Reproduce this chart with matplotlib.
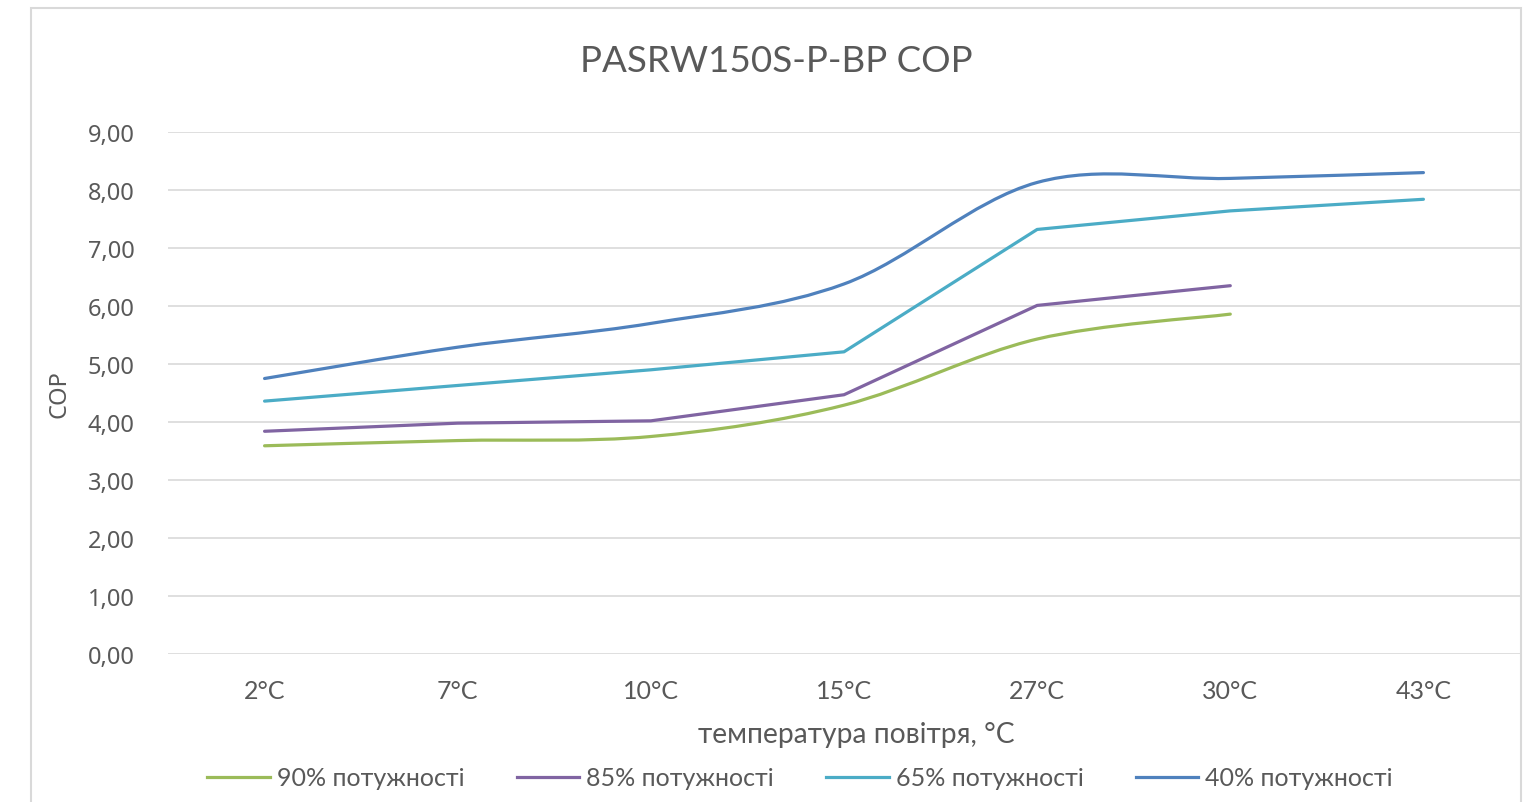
import matplotlib
matplotlib.use("Agg")
import matplotlib.pyplot as plt
from matplotlib.lines import Line2D
from matplotlib.patches import PathPatch, Rectangle
from matplotlib.path import Path
from matplotlib.ticker import FuncFormatter

TEMPS = ["2°C", "7°C", "10°C", "15°C", "27°C", "30°C", "43°C"]
COP_90 = [3.59, 3.68, 3.75, 4.29, 5.43, 5.86]
COP_85 = [3.84, 3.98, 4.02, 4.47, 6.01, 6.35]
COP_65 = [4.36, 4.63, 4.90, 5.21, 7.32, 7.64, 7.84]
COP_40 = [4.75, 5.29, 5.70, 6.38, 8.13, 8.20, 8.30]

# (label, values, colour, smoothed like Excel)
SERIES = [
    ("90% потужності", COP_90, "#9BBB59", True),
    ("85% потужності", COP_85, "#8064A2", False),
    ("65% потужності", COP_65, "#4BACC6", False),
    ("40% потужності", COP_40, "#4F81BD", True),
]

TEXT = "#595959"
CALIBRI_LIKE = ["Lato", "DejaVu Sans"]
SEGOE_LIKE = ["Noto Sans", "DejaVu Sans"]


def smooth_path(xs, ys):
    # Excel style smoothing: Catmull-Rom segments as cubic Bezier curves
    pts = list(zip(xs, ys))
    n = len(pts)
    verts = [pts[0]]
    codes = [Path.MOVETO]
    for i in range(n - 1):
        p0 = pts[i - 1] if i > 0 else pts[i]
        p1 = pts[i]
        p2 = pts[i + 1]
        p3 = pts[i + 2] if i + 2 < n else pts[i + 1]
        c1 = (p1[0] + (p2[0] - p0[0]) / 6, p1[1] + (p2[1] - p0[1]) / 6)
        c2 = (p2[0] - (p3[0] - p1[0]) / 6, p2[1] - (p3[1] - p1[1]) / 6)
        verts += [c1, c2, p2]
        codes += [Path.CURVE4] * 3
    return Path(verts, codes)


fig = plt.figure(figsize=(15.36, 8.03), dpi=100)
fig.patches.append(Rectangle((31 / 1536, -0.05), 1490 / 1536, 1 - 9 / 803 + 0.05,
                             transform=fig.transFigure, fill=False,
                             edgecolor="#d9d9d9", linewidth=1.5))

ax = fig.add_axes([168 / 1536, 1 - 655 / 803, 1352 / 1536, 522 / 803])

handles = []
for label, values, color, smooth in SERIES:
    xs = list(range(len(values)))
    if smooth:
        ax.add_patch(PathPatch(smooth_path(xs, values), fill=False, edgecolor=color,
                               linewidth=2.3, capstyle="round", joinstyle="round"))
    else:
        ax.plot(xs, values, color=color, linewidth=2.3,
                solid_capstyle="round", solid_joinstyle="round")
    handles.append(Line2D([], [], color=color, linewidth=2.3, label=label))

ax.set_xlim(-0.5, len(TEMPS) - 0.5)
ax.set_ylim(0, 9)
ax.set_yticks(range(0, 10))
ax.yaxis.set_major_formatter(FuncFormatter(lambda v, _: f"{v:.2f}".replace(".", ",")))
ax.set_xticks(range(len(TEMPS)))
ax.set_xticklabels(TEMPS)

ax.grid(axis="y", color="#d9d9d9", linewidth=1.2)
ax.set_axisbelow(True)
for s in ax.spines.values():
    s.set_visible(False)
ax.tick_params(axis="both", length=0)
ax.tick_params(axis="y", pad=24, labelcolor=TEXT)
ax.tick_params(axis="x", pad=18, labelcolor=TEXT)
for t in ax.get_yticklabels():
    t.set_fontfamily(SEGOE_LIKE)
    t.set_fontsize(17)
for t in ax.get_xticklabels():
    t.set_fontfamily(CALIBRI_LIKE)
    t.set_fontsize(18)

ax.set_ylabel("COP", family=SEGOE_LIKE, fontsize=17, color=TEXT, labelpad=12)
ax.set_xlabel("температура повітря, °C", family=CALIBRI_LIKE, fontsize=20.3,
              color=TEXT, labelpad=14)
ax.xaxis.label.set_x(0.509)

fig.text(776 / 1536, 1 - 62 / 803, "PASRW150S-P-BP COP", family=CALIBRI_LIKE,
         fontsize=26.5, color=TEXT, ha="center", va="center")

fig.legend(handles=handles, loc="center", bbox_to_anchor=(800 / 1536, 1 - 779 / 803),
           ncol=4, frameon=False, handlelength=2.5, handletextpad=0.28,
           columnspacing=2.1, prop={"family": CALIBRI_LIKE, "size": 18},
           labelcolor=TEXT)

fig.savefig("out.png", dpi=100, facecolor="white")
